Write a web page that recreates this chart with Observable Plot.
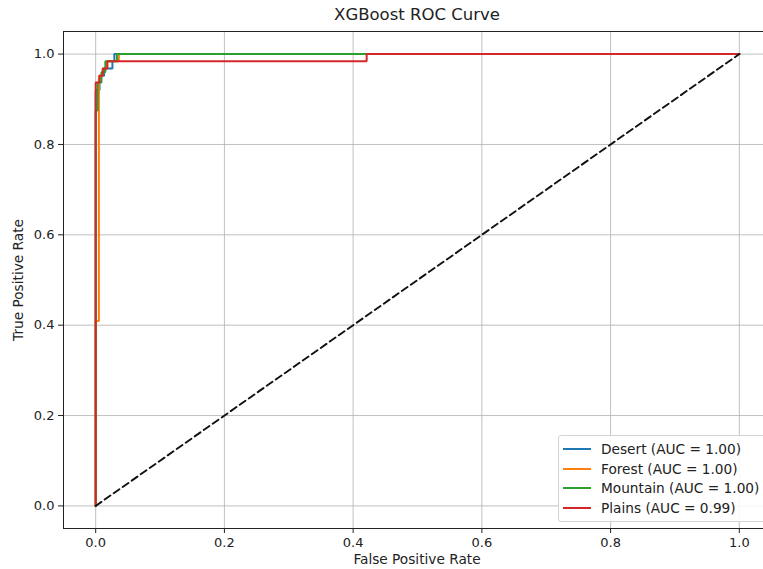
<!DOCTYPE html>
<html>
<head>
<meta charset="utf-8">
<script src="https://cdn.jsdelivr.net/npm/d3@7"></script>
<script src="https://cdn.jsdelivr.net/npm/@observablehq/plot@0.6"></script>
<style>
  html, body { margin: 0; padding: 0; background: #fff; overflow: hidden; }
  #wrap { position: relative; width: 763px; height: 569px; font-family: "DejaVu Sans", sans-serif; color: #222; }
  #title { position: absolute; left: 0; width: 834px; top: 5px; text-align: center; font-size: 16.5px; }
  #xlabel { position: absolute; left: 0; width: 834px; top: 551px; text-align: center; font-size: 13.7px; }
  #ylabel { position: absolute; left: 18px; top: 280px; transform: translate(-50%, -50%) rotate(-90deg); white-space: nowrap; font-size: 13.7px; }
  #legend { position: absolute; left: 558px; top: 435px; width: 220px; height: 87px; border: 1px solid #d3d3d3; border-radius: 3px; background: rgba(255,255,255,0.85); box-sizing: border-box; font-size: 13.7px; }
  .row { position: absolute; left: 0; height: 18px; }
  .sw { position: absolute; left: 4px; top: 8px; width: 28px; height: 2px; }
  .lt { position: absolute; left: 42px; top: 0; white-space: nowrap; line-height: 18px; }
  svg { position: absolute; left: 0; top: 0; }
</style>
</head>
<body>
<div id="wrap">
  <div id="title">XGBoost ROC Curve</div>
  <div id="xlabel">False Positive Rate</div>
  <div id="ylabel">True Positive Rate</div>
  <div id="legend"></div>
</div>
<script>
const classes = ["Desert", "Forest", "Mountain", "Plains"];
const aucs = [1.00, 1.00, 1.00, 0.99];
const colors = ["#1f77b4", "#ff7f0e", "#2ca02c", "#d62728"];
const tickValues = [0, 0.2, 0.4, 0.6, 0.8, 1.0];

const desertFpr = [0, 0, 0.006, 0.006, 0.013, 0.013, 0.026, 0.026, 0.029, 0.029, 1];
const desertTpr = [0, 0.92, 0.92, 0.952, 0.952, 0.968, 0.968, 0.984, 0.984, 1, 1];
const forestFpr = [0, 0, 0.005, 0.005, 0.011, 0.011, 0.018, 0.018, 0.036, 0.036, 1];
const forestTpr = [0, 0.409, 0.409, 0.952, 0.952, 0.968, 0.968, 0.984, 0.984, 1, 1];
const mountainFpr = [0, 0, 0.003, 0.003, 0.009, 0.009, 0.015, 0.015, 0.033, 0.033, 1];
const mountainTpr = [0, 0.875, 0.875, 0.937, 0.937, 0.96, 0.96, 0.984, 0.984, 1, 1];
const plainsFpr = [0, 0, 0.006, 0.006, 0.011, 0.011, 0.018, 0.018, 0.421, 0.421, 1];
const plainsTpr = [0, 0.937, 0.937, 0.952, 0.952, 0.968, 0.968, 0.984, 0.984, 1, 1];
const diagFpr = [0, 1];
const diagTpr = [0, 1];

const series = [
  [desertFpr, desertTpr],
  [forestFpr, forestTpr],
  [mountainFpr, mountainTpr],
  [plainsFpr, plainsTpr]
];

const rows = [];
series.forEach(([f, t], i) => f.forEach((v, j) => rows.push({cls: classes[i], fpr: v, tpr: t[j]})));
const diag = diagFpr.map((v, j) => ({fpr: v, tpr: diagTpr[j]}));

const fmt = d3.format(".1f");
const chart = Plot.plot({
  width: 763,
  height: 569,
  marginTop: 31,
  marginBottom: 41,
  marginLeft: 63,
  marginRight: -8,
  style: {fontFamily: "DejaVu Sans, sans-serif", fontSize: "13px", color: "#222", background: "transparent", overflow: "visible"},
  x: {domain: [-0.05, 1.05]},
  y: {domain: [-0.05, 1.05]},
  color: {domain: classes, range: colors},
  marks: [
    Plot.gridX(tickValues, {stroke: "#b0b0b0", strokeOpacity: 1, strokeWidth: 0.8}),
    Plot.gridY(tickValues, {stroke: "#b0b0b0", strokeOpacity: 1, strokeWidth: 0.8}),
    Plot.axisX({ticks: tickValues, tickFormat: fmt, tickSize: 5, tickPadding: 4, label: null, stroke: "#222"}),
    Plot.axisY({ticks: tickValues, tickFormat: fmt, tickSize: 5, tickPadding: 4, label: null, stroke: "#222"}),
    Plot.line(rows, {x: "fpr", y: "tpr", z: "cls", stroke: "cls", strokeWidth: 2, curve: "linear", strokeLinejoin: "miter"}),
    Plot.line(diag, {x: "fpr", y: "tpr", stroke: "#111", strokeWidth: 1.9, strokeDasharray: "7,4"}),
    Plot.frame({stroke: "#222", strokeWidth: 1})
  ]
});
document.getElementById("wrap").prepend(chart);

const legend = document.getElementById("legend");
classes.forEach((c, i) => {
  const r = document.createElement("div");
  r.className = "row";
  r.style.top = (4 + i * 19.6) + "px";
  r.innerHTML = `<div class="sw" style="background:${colors[i]}"></div><div class="lt">${c} (AUC = ${aucs[i].toFixed(2)})</div>`;
  legend.appendChild(r);
});
</script>
</body>
</html>
